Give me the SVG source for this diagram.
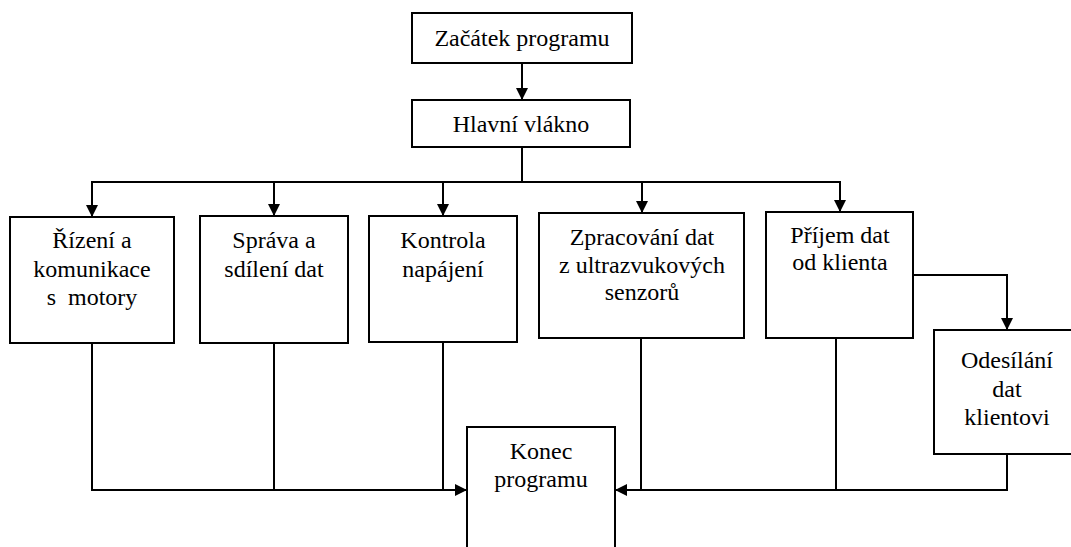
<svg xmlns="http://www.w3.org/2000/svg" width="1071" height="547" viewBox="0 0 1071 547">
  <style>
    .box { fill: #ffffff; stroke: #000000; stroke-width: 2; }
    .wire { fill: none; stroke: #000000; stroke-width: 2; }
    text { font-family: 'Liberation Serif', 'Times New Roman', serif; font-size: 24px; fill: #000000; text-anchor: middle; }
  </style>
  <defs>
    <marker id="arrow" viewBox="0 0 12 12" refX="12" refY="6" markerWidth="12" markerHeight="12" markerUnits="userSpaceOnUse" orient="auto">
      <path d="M0,0 L12,6 L0,12 Z" fill="#000000"/>
    </marker>
  </defs>

  <rect width="1071" height="547" fill="#ffffff"/>

  <g id="connectors">
    <!-- start to main thread -->
    <line class="wire" x1="522" y1="63" x2="522" y2="100" marker-end="url(#arrow)"/>
    <!-- main thread down to the distribution bus -->
    <line class="wire" x1="522" y1="147" x2="522" y2="182"/>
    <line class="wire" x1="91" y1="182" x2="841" y2="182"/>
    <line class="wire" x1="92" y1="182" x2="92" y2="217" marker-end="url(#arrow)"/>
    <line class="wire" x1="274" y1="182" x2="274" y2="216" marker-end="url(#arrow)"/>
    <line class="wire" x1="443" y1="182" x2="443" y2="216" marker-end="url(#arrow)"/>
    <line class="wire" x1="642" y1="182" x2="642" y2="213" marker-end="url(#arrow)"/>
    <line class="wire" x1="840" y1="182" x2="840" y2="212" marker-end="url(#arrow)"/>
    <!-- receive to send -->
    <polyline class="wire" points="913,275 1007,275 1007,330" marker-end="url(#arrow)"/>
    <!-- left collector into end node -->
    <polyline class="wire" points="92,343 92,490 467,490" marker-end="url(#arrow)"/>
    <line class="wire" x1="274" y1="343" x2="274" y2="490"/>
    <line class="wire" x1="443" y1="342" x2="443" y2="490"/>
    <!-- right collector into end node -->
    <polyline class="wire" points="1007,454 1007,490 615,490" marker-end="url(#arrow)"/>
    <line class="wire" x1="641" y1="338" x2="641" y2="490"/>
    <line class="wire" x1="836" y1="338" x2="836" y2="490"/>
  </g>

  <g id="start">
    <rect class="box" x="412" y="13" width="220" height="50"/>
    <text x="522" y="46">Začátek programu</text>
  </g>

  <g id="main-thread">
    <rect class="box" x="412" y="100" width="218" height="47"/>
    <text x="521" y="132">Hlavní vlákno</text>
  </g>

  <g id="motors">
    <rect class="box" x="10" y="217" width="164" height="126"/>
    <text x="92" y="248">Řízení a</text>
    <text x="92" y="277">komunikace</text>
    <text x="92" y="305" xml:space="preserve">s  motory</text>
  </g>

  <g id="data-sharing">
    <rect class="box" x="200" y="216" width="148" height="127"/>
    <text x="274" y="248">Správa a</text>
    <text x="274" y="277">sdílení dat</text>
  </g>

  <g id="power">
    <rect class="box" x="369" y="216" width="148" height="126"/>
    <text x="443" y="248">Kontrola</text>
    <text x="443" y="277">napájení</text>
  </g>

  <g id="ultrasonic">
    <rect class="box" x="539" y="213" width="205" height="125"/>
    <text x="642" y="245">Zpracování dat</text>
    <text x="642" y="273">z ultrazvukových</text>
    <text x="642" y="300">senzorů</text>
  </g>

  <g id="receive">
    <rect class="box" x="766" y="212" width="147" height="126"/>
    <text x="840" y="243">Příjem dat</text>
    <text x="840" y="270">od klienta</text>
  </g>

  <g id="send">
    <rect class="box" x="934" y="330" width="146" height="124"/>
    <text x="1007" y="368">Odesílání</text>
    <text x="1007" y="397">dat</text>
    <text x="1007" y="425">klientovi</text>
  </g>

  <g id="end">
    <rect class="box" x="467" y="427" width="148" height="130"/>
    <text x="541" y="459">Konec</text>
    <text x="541" y="487">programu</text>
  </g>
</svg>
